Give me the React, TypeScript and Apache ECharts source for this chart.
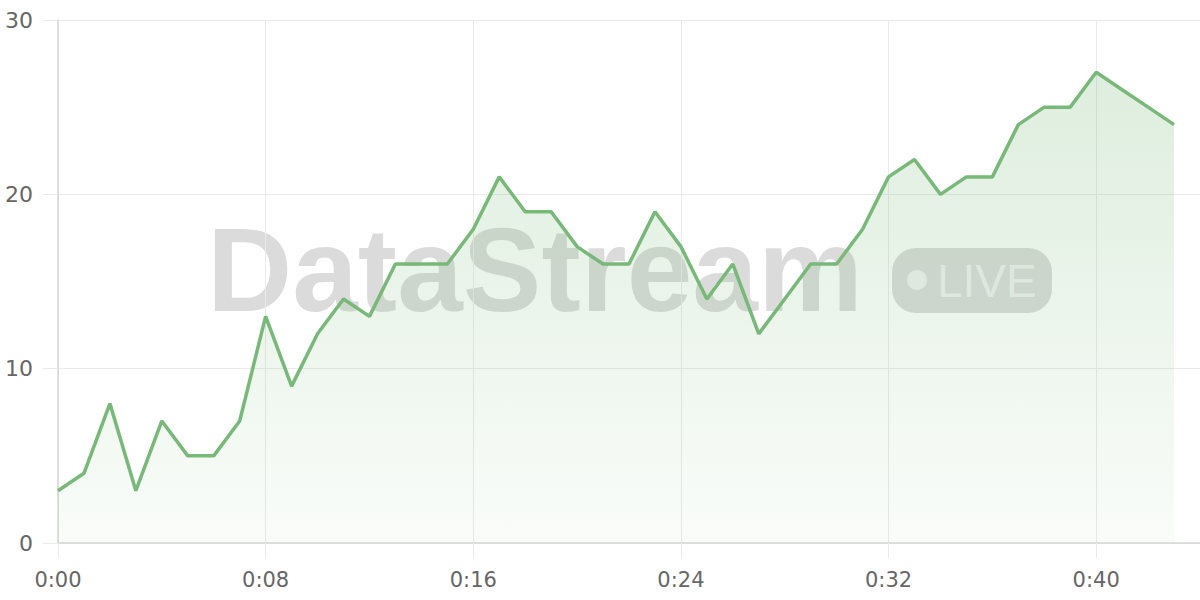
import React, { useEffect, useRef } from "react";
import * as echarts from "echarts";

const seconds: number[] = Array.from({ length: 45 }, (_, i) => i);
const categories: string[] = seconds.map((s) => `${Math.floor(s / 60)}:${String(s % 60).padStart(2, "0")}`);
const values: number[] = [
  3, 4, 8, 3, 7, 5, 5, 7, 13, 9, 12, 14, 13, 16, 16, 16, 18, 21, 19, 19, 17, 16, 16, 19, 17, 14, 16, 12,
  14, 16, 16, 18, 21, 22, 20, 21, 21, 24, 25, 25, 27, 26, 25, 24,
];
const yTicks = { min: 0, max: 30, interval: 10 };

export default function App() {
  const ref = useRef<HTMLDivElement>(null);
  useEffect(() => {
    if (!ref.current) return;
    const chart = echarts.init(ref.current, undefined, { renderer: "svg" });
    chart.setOption({
      animation: false,
      grid: { left: 58, right: 0, top: 20, bottom: 57 },
      graphic: [
        {
          type: "text",
          left: 207,
          top: 211,
          z: 0,
          style: {
            text: "DataStream",
            font: "bold 118px 'Liberation Sans', Arial, sans-serif",
            fill: "rgba(0,0,0,0.14)",
          },
        },
        {
          type: "group",
          left: 892,
          top: 248,
          z: 0,
          children: [
            {
              type: "rect",
              shape: { x: 0, y: 0, width: 160, height: 65, r: 24 },
              style: { fill: "rgba(0,0,0,0.14)" },
            },
            {
              type: "circle",
              shape: { cx: 25, cy: 32, r: 10 },
              style: { fill: "rgba(255,255,255,0.6)" },
            },
            {
              type: "text",
              x: 45,
              y: 33,
              style: {
                text: "LIVE",
                font: "500 46px 'Liberation Sans', Arial, sans-serif",
                fill: "rgba(255,255,255,0.6)",
                verticalAlign: "middle",
              },
            },
          ],
        },
      ],
      xAxis: {
        type: "category",
        data: categories,
        boundaryGap: false,
        axisLine: { lineStyle: { color: "#d6d6d6", width: 1.5 } },
        axisTick: { show: true, length: 15, interval: 7, lineStyle: { color: "#eaeaea" } },
        axisLabel: { interval: 7, color: "#666", fontSize: 21, margin: 26, fontFamily: "'DejaVu Sans', sans-serif" },
        splitLine: { show: true, interval: 7, lineStyle: { color: "#eaeaea" } },
      },
      yAxis: {
        type: "value",
        min: yTicks.min,
        max: yTicks.max,
        interval: yTicks.interval,
        axisLine: { show: true, lineStyle: { color: "#d6d6d6", width: 1.5 } },
        axisTick: { show: true, length: 15, lineStyle: { color: "#eaeaea" } },
        axisLabel: { color: "#666", fontSize: 22, margin: 25, fontFamily: "'DejaVu Sans', sans-serif" },
        splitLine: { show: true, lineStyle: { color: "#eaeaea" } },
      },
      series: [
        {
          type: "line",
          data: values,
          z: 3,
          symbol: "none",
          lineStyle: { color: "#78b878", width: 3.5 },
          itemStyle: { color: "#78b878" },
          areaStyle: {
            color: new echarts.graphic.LinearGradient(0, 0, 0, 1, [
              { offset: 0, color: "rgba(120,184,120,0.35)" },
              { offset: 1, color: "rgba(120,184,120,0.06)" },
            ]),
          },
        },
      ],
    });
    return () => chart.dispose();
  }, []);
  return <div ref={ref} style={{ width: 1200, height: 600, position: "absolute", left: 0, top: 0 }} />;
}
